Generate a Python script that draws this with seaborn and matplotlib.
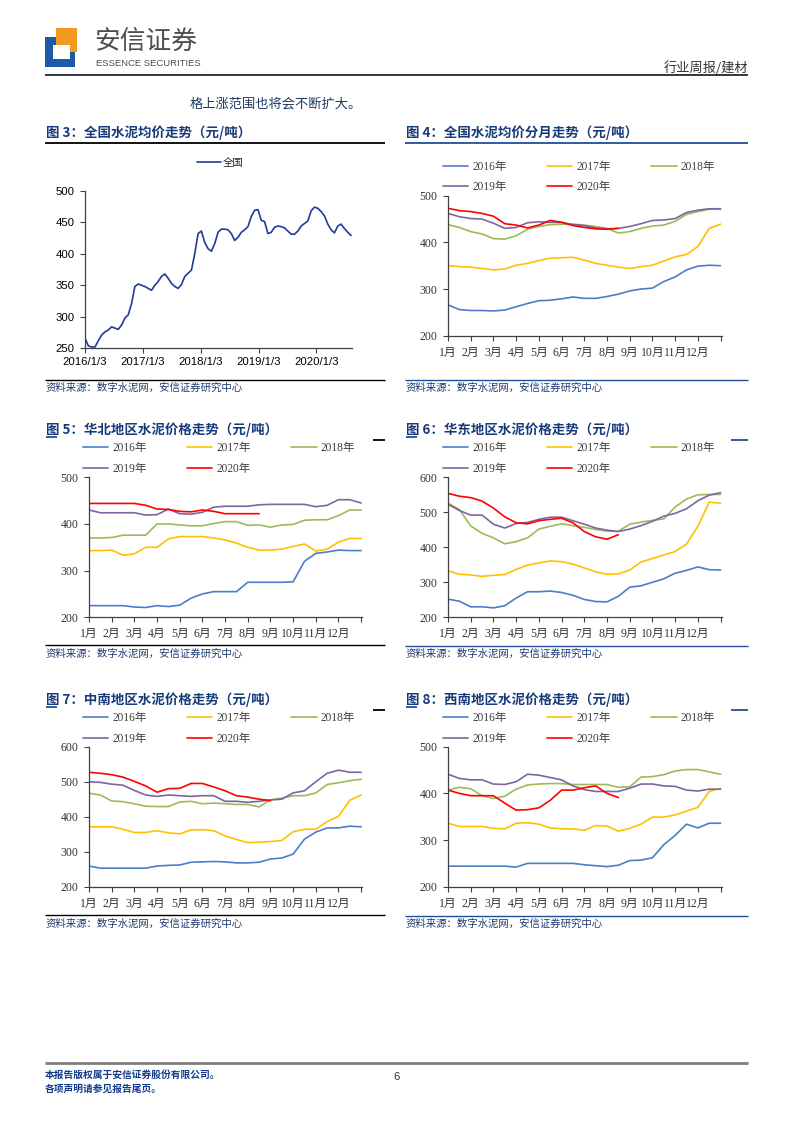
import numpy as np
import pandas as pd
import matplotlib
matplotlib.use('Agg')
import matplotlib.pyplot as plt
import seaborn as sns
from matplotlib.lines import Line2D
from matplotlib.patches import Rectangle
from matplotlib.font_manager import FontProperties

sns.set_theme(style='white')
plt.rcParams['font.family'] = ['Noto Sans CJK SC', 'DejaVu Sans']
plt.rcParams['axes.unicode_minus'] = False

W, H = 793, 1122
SERIF = ['Liberation Serif', 'Noto Sans CJK SC']
SANS = ['Liberation Sans', 'Noto Sans CJK SC']
CJK = ['Noto Sans CJK SC', 'DejaVu Sans']

# ---------------- data ----------------
national_start = '2016-01-03'
national_step_days = 21
national_avg = [266, 254, 252, 252, 262, 271, 276, 279, 284, 282,
                280, 287, 298, 303, 321, 348, 352, 350, 348, 345,
                342, 350, 356, 364, 368, 361, 353, 348, 345, 351,
                364, 369, 374, 400, 432, 436, 418, 408, 404, 416,
                434, 439, 439, 438, 432, 421, 426, 434, 438, 443,
                459, 469, 470, 453, 451, 432, 434, 442, 444, 443,
                441, 436, 431, 431, 436, 444, 448, 452, 468, 474,
                472, 467, 460, 447, 438, 433, 444, 447, 440, 434,
                429]
national_tick_dates = ['2016-01-03', '2017-01-03', '2018-01-03', '2019-01-03', '2020-01-03']
national_tick_labels = ['2016/1/3', '2017/1/3', '2018/1/3', '2019/1/3', '2020/1/3']

month_labels = ['1月', '2月', '3月', '4月', '5月', '6月', '7月', '8月', '9月', '10月', '11月', '12月']
year_labels = ['2016年', '2017年', '2018年', '2019年', '2020年']
year_colors = ['#4A7EC8', '#FFC000', '#9BBB59', '#8064A2', '#FF0000']

# Fig 4: national, by month (half-month samples)
nat_2016 = [266, 256, 254, 254, 253, 255, 262, 269, 275, 276, 279, 283, 280, 280, 284, 289, 296, 300, 302, 316, 326, 341, 349, 351, 350]
nat_2017 = [350, 348, 347, 344, 341, 343, 351, 355, 361, 366, 367, 368, 362, 355, 351, 347, 344, 348, 351, 360, 369, 374, 391, 430, 439]
nat_2018 = [438, 432, 423, 418, 408, 407, 414, 428, 434, 438, 439, 439, 437, 434, 430, 420, 423, 430, 435, 437, 445, 460, 466, 471, 471]
nat_2019 = [462, 455, 451, 450, 441, 430, 432, 442, 444, 443, 443, 438, 436, 431, 429, 430, 434, 440, 447, 448, 451, 464, 469, 472, 472]
nat_2020 = [473, 468, 466, 462, 456, 440, 437, 431, 437, 447, 443, 436, 432, 429, 428, 430]

# Fig 5: North China
nc_2016 = [225, 225, 225, 225, 222, 221, 225, 223, 226, 241, 250, 255, 255, 255, 275, 275, 275, 275, 276, 320, 337, 340, 344, 343, 343]
nc_2017 = [343, 343, 344, 333, 336, 350, 350, 368, 373, 373, 373, 370, 366, 359, 350, 344, 344, 346, 352, 357, 342, 346, 361, 369, 369]
nc_2018 = [370, 370, 371, 376, 376, 376, 400, 400, 398, 396, 396, 401, 405, 405, 397, 398, 393, 398, 399, 408, 409, 409, 418, 430, 430]
nc_2019 = [430, 424, 424, 424, 424, 419, 420, 432, 422, 421, 425, 436, 438, 438, 438, 441, 442, 442, 442, 442, 437, 440, 452, 452, 445]
nc_2020 = [444, 444, 444, 444, 444, 440, 432, 431, 427, 426, 430, 427, 422, 422, 422, 422]

# Fig 6: East China
ec_2016 = [252, 246, 230, 230, 227, 233, 255, 273, 273, 275, 271, 263, 251, 245, 244, 260, 286, 290, 300, 310, 326, 334, 344, 336, 335]
ec_2017 = [333, 323, 321, 317, 320, 322, 337, 349, 355, 361, 359, 352, 341, 330, 323, 324, 335, 358, 368, 378, 388, 409, 460, 529, 526]
ec_2018 = [526, 508, 461, 440, 427, 410, 416, 427, 452, 460, 467, 462, 457, 451, 446, 446, 466, 472, 477, 481, 515, 538, 550, 551, 551]
ec_2019 = [523, 505, 492, 492, 466, 455, 468, 471, 480, 486, 486, 476, 466, 455, 449, 445, 452, 462, 474, 489, 497, 510, 533, 549, 556]
ec_2020 = [554, 546, 542, 532, 512, 487, 470, 467, 476, 480, 483, 470, 445, 430, 423, 436]

# Fig 7: Central-South China
cs_2016 = [259, 253, 253, 253, 253, 253, 259, 261, 262, 270, 271, 272, 271, 268, 268, 270, 279, 282, 293, 336, 356, 368, 368, 373, 371]
cs_2017 = [371, 371, 371, 364, 355, 355, 360, 354, 351, 362, 363, 360, 345, 335, 326, 327, 329, 332, 357, 364, 364, 386, 401, 447, 462]
cs_2018 = [467, 462, 445, 443, 437, 430, 429, 429, 442, 444, 437, 439, 437, 435, 435, 428, 448, 453, 460, 460, 468, 492, 497, 503, 507]
cs_2019 = [500, 498, 493, 490, 475, 462, 458, 462, 460, 458, 460, 460, 444, 444, 441, 444, 448, 450, 468, 474, 500, 524, 533, 527, 527]
cs_2020 = [527, 524, 520, 513, 501, 488, 470, 480, 481, 495, 495, 485, 474, 460, 456, 450, 446]

# Fig 8: South-West China
sw_2016 = [244, 244, 244, 244, 244, 244, 242, 250, 250, 250, 250, 250, 247, 245, 243, 246, 256, 257, 262, 290, 310, 334, 326, 336, 336]
sw_2017 = [336, 329, 329, 329, 325, 324, 336, 337, 334, 326, 324, 324, 321, 331, 330, 319, 325, 334, 349, 349, 354, 362, 370, 404, 411]
sw_2018 = [407, 413, 410, 395, 389, 394, 409, 418, 420, 421, 421, 419, 419, 419, 419, 413, 414, 435, 436, 440, 448, 451, 451, 446, 441]
sw_2019 = [441, 432, 429, 429, 420, 419, 425, 441, 439, 434, 429, 416, 408, 404, 404, 404, 411, 420, 420, 416, 415, 407, 405, 409, 409]
sw_2020 = [407, 400, 395, 395, 395, 379, 364, 365, 369, 385, 407, 407, 412, 416, 400, 391]

# ---------------- helpers ----------------
fig = plt.figure(figsize=(W / 100, H / 100), dpi=100)

TITLE_C = '#173A7A'
SRC_C = '#1F3A73'
BLUE_LINE = '#1F4E9A'


def fx(x):
    return x / W


def fy(y):
    return 1 - y / H


def add_ax(l, t, r, b):
    return fig.add_axes([fx(l), fy(b), (r - l) / W, (b - t) / H])


def hline(x1, x2, y, color='black', lw=1.0):
    fig.add_artist(Line2D([fx(x1), fx(x2)], [fy(y), fy(y)], transform=fig.transFigure,
                          color=color, lw=lw, solid_capstyle='butt'))


def text(x, y, s, **kw):
    kw.setdefault('va', 'center')
    kw.setdefault('ha', 'left')
    fig.text(fx(x), fy(y), s, **kw)


def style_axes(ax, family, size=8.5, xpad=4.5):
    for sp in ['top', 'right']:
        ax.spines[sp].set_visible(False)
    for sp in ['left', 'bottom']:
        ax.spines[sp].set_color('#404040')
        ax.spines[sp].set_linewidth(0.9)
    ax.tick_params(axis='both', which='major', direction='out', length=3.5, width=0.8,
                   color='#404040', labelcolor='#333333', labelsize=size, bottom=True, left=True)
    ax.tick_params(axis='x', pad=xpad)
    ax.tick_params(axis='y', pad=4)
    for lab in ax.get_xticklabels() + ax.get_yticklabels():
        lab.set_fontfamily(family)
    ax.set_xlabel('')
    ax.set_ylabel('')
    ax.grid(False)
    ax.set_facecolor('none')


def year_chart(rect, series, ylim, yticks, legend_x, legend_top):
    ax = add_ax(*rect)
    frames = []
    for lab, vals in zip(year_labels, series):
        frames.append(pd.DataFrame({'pos': np.arange(len(vals)) * 0.5,
                                    'price': vals, 'year': lab}))
    df = pd.concat(frames, ignore_index=True)
    sns.lineplot(data=df, x='pos', y='price', hue='year', hue_order=year_labels,
                 palette=dict(zip(year_labels, year_colors)), ax=ax, legend=False,
                 estimator=None, sort=False, linewidth=1.2)
    ax.set_xlim(0, 12.05)
    ax.set_ylim(*ylim)
    ax.set_xticks(range(13))
    ax.set_xticklabels(month_labels + [''])
    ax.set_yticks(yticks)
    ax.set_yticklabels([str(v) for v in yticks])
    style_axes(ax, SERIF)
    order = [0, 3, 1, 4, 2]
    handles = [Line2D([], [], color=year_colors[i], lw=1.2) for i in order]
    labels = [year_labels[i] for i in order]
    ax.legend(handles, labels, ncol=3, loc='upper left',
              bbox_to_anchor=(fx(legend_x), fy(legend_top)), bbox_transform=fig.transFigure,
              frameon=False, prop=FontProperties(family=SERIF, size=8.3),
              handlelength=2.2, handletextpad=0.35, columnspacing=3.5,
              labelspacing=0.72, borderaxespad=0, borderpad=0, labelcolor='#404040')
    return ax


# ---------------- header ----------------
fig.add_artist(Rectangle((fx(45), fy(67)), 30 / W, 30 / H, transform=fig.transFigure,
                         color='#1D5BA8', lw=0))
fig.add_artist(Rectangle((fx(56), fy(52)), 21 / W, 24 / H, transform=fig.transFigure,
                         color='#F39A1E', lw=0))
fig.add_artist(Rectangle((fx(53), fy(59)), 17 / W, 14 / H, transform=fig.transFigure,
                         color='white', lw=0))
text(94, 42, '安信证券', fontsize=18.5, color='#4D4D4D', family=CJK)
text(96, 63, 'ESSENCE SECURITIES', fontsize=6.8, color='#4D4D4D', family=['Liberation Sans'])
text(748, 68, '行业周报/建材', fontsize=9.5, color='#333333', ha='right', family=CJK)
hline(45, 748, 74.5, 'black', 1.1)

text(190, 104, '格上涨范围也将会不断扩大。', fontsize=9.5, color='#1F3864', family=CJK)

# ---------------- titles, rules, sources ----------------
left_x, right_x = 46, 406
title_kw = dict(fontsize=9.7, color=TITLE_C, fontweight='bold', family=CJK)
src_kw = dict(fontsize=7.5, color=SRC_C, family=CJK, style='italic')
src_text = '资料来源：数字水泥网，安信证券研究中心'

text(left_x, 133, '图 3：全国水泥均价走势（元/吨）', **title_kw)
text(right_x, 133, '图 4：全国水泥均价分月走势（元/吨）', **title_kw)
hline(45, 385, 142.5, 'black', 1.3)
hline(405, 748, 142.5, BLUE_LINE, 1.3)
hline(45, 385, 380, 'black', 1.0)
hline(405, 748, 380, BLUE_LINE, 1.0)
text(46, 388, src_text, **src_kw)
text(406, 388, src_text, **src_kw)

text(left_x, 430, '图 5：华北地区水泥价格走势（元/吨）', **title_kw)
text(right_x, 430, '图 6：华东地区水泥价格走势（元/吨）', **title_kw)
hline(373, 385, 440, 'black', 1.3)
hline(731, 748, 440, BLUE_LINE, 1.3)
hline(46, 57, 437, BLUE_LINE, 1.3)
hline(406, 417, 437, BLUE_LINE, 1.3)
hline(45, 385, 645, 'black', 1.0)
hline(405, 748, 646, BLUE_LINE, 1.0)
text(46, 654, src_text, **src_kw)
text(406, 654, src_text, **src_kw)

text(left_x, 700, '图 7：中南地区水泥价格走势（元/吨）', **title_kw)
text(right_x, 700, '图 8：西南地区水泥价格走势（元/吨）', **title_kw)
hline(373, 385, 709.5, 'black', 1.3)
hline(731, 748, 709.5, BLUE_LINE, 1.3)
hline(46, 57, 706.5, BLUE_LINE, 1.3)
hline(406, 417, 706.5, BLUE_LINE, 1.3)
hline(45, 385, 915, 'black', 1.0)
hline(405, 748, 916, BLUE_LINE, 1.0)
text(46, 924, src_text, **src_kw)
text(406, 924, src_text, **src_kw)

# ---------------- Fig 3: national weekly ----------------
ax3 = add_ax(85, 190.7, 351.7, 348.3)
nat_df = pd.DataFrame({
    'date': pd.date_range(national_start, periods=len(national_avg), freq=f'{national_step_days}D'),
    'price': national_avg,
})
sns.lineplot(data=nat_df, x='date', y='price', ax=ax3, color='#23399B', linewidth=1.2)
ax3.set_xlim(nat_df['date'].iloc[0], nat_df['date'].iloc[-1] + pd.Timedelta(days=4))
ax3.set_ylim(250, 500)
ax3.set_yticks([250, 300, 350, 400, 450, 500])
ax3.set_yticklabels(['250', '300', '350', '400', '450', '500'])
ax3.set_xticks(pd.to_datetime(national_tick_dates))
ax3.set_xticklabels(national_tick_labels)
style_axes(ax3, SANS, size=8.2, xpad=3)
ax3.tick_params(labelcolor='black')
ax3.legend([Line2D([], [], color='#23399B', lw=1.2)], ['全国'], loc='center',
           bbox_to_anchor=(fx(220), fy(163)), bbox_transform=fig.transFigure,
           frameon=False, prop=FontProperties(family=CJK, size=7.5),
           handlelength=2.3, handletextpad=0.2, borderpad=0, borderaxespad=0)

# ---------------- Fig 4-8 ----------------
year_chart((448, 195.7, 721.7, 335.7), [nat_2016, nat_2017, nat_2018, nat_2019, nat_2020],
           (200, 500), [200, 300, 400, 500], 443, 161)
year_chart((89, 477.3, 362.3, 617.3), [nc_2016, nc_2017, nc_2018, nc_2019, nc_2020],
           (200, 500), [200, 300, 400, 500], 83, 442.5)
year_chart((448, 477.3, 721.7, 617.3), [ec_2016, ec_2017, ec_2018, ec_2019, ec_2020],
           (200, 600), [200, 300, 400, 500, 600], 443, 442.5)
year_chart((89, 746.7, 362.3, 886.7), [cs_2016, cs_2017, cs_2018, cs_2019, cs_2020],
           (200, 600), [200, 300, 400, 500, 600], 83, 712.5)
year_chart((448, 746.7, 721.7, 886.7), [sw_2016, sw_2017, sw_2018, sw_2019, sw_2020],
           (200, 500), [200, 300, 400, 500], 443, 712.5)

# ---------------- footer ----------------
hline(45, 748, 1063, '#7F7F7F', 2.0)
text(45, 1075, '本报告版权属于安信证券股份有限公司。', fontsize=7, color='#123A8A',
     fontweight='bold', family=CJK)
text(45, 1089, '各项声明请参见报告尾页。', fontsize=7, color='#123A8A',
     fontweight='bold', family=CJK)
text(396, 1077, '6', fontsize=8, color='#333333', ha='center', family=SANS)

fig.savefig('out.png', dpi=100)
